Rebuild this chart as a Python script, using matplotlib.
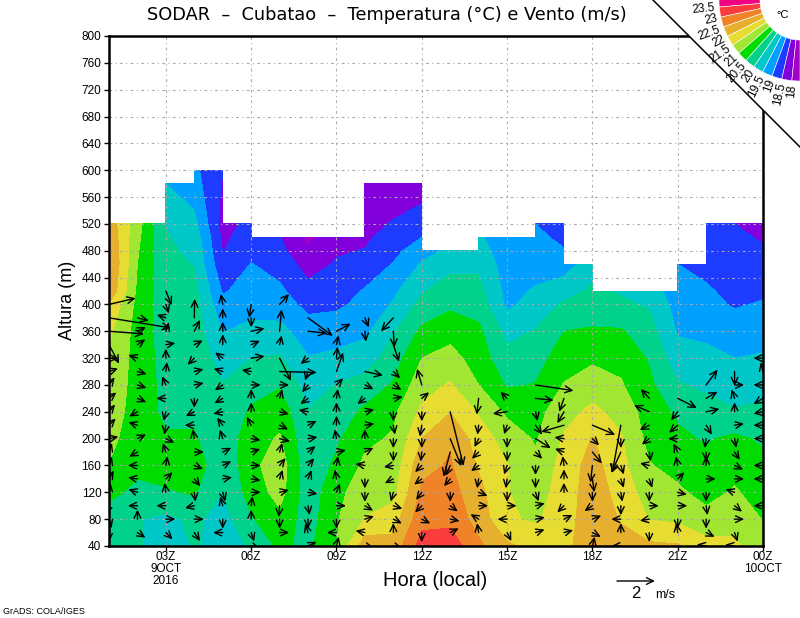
import numpy as np
import matplotlib
matplotlib.use('Agg')
import matplotlib.pyplot as plt
from matplotlib.patches import Wedge, Polygon

N = None
hours = list(range(1, 25))
alt_rows = [40, 80, 120, 160, 200, 240, 280, 320, 360, 400, 420, 460, 480, 500, 520, 580, 600]
wind_rows = list(range(40, 421, 20))

t01 = [20.1,20.3,20.6,20.98,21.15,21.3,21.35,21.45,21.6,21.95,22.4,22.55,22.5,22.4,22.3]
t02 = [20.08,20.03,20.4,20.6,20.7,20.75,20.8,20.8,20.8,20.85,20.9,21.0,21.05,21.12,21.2]
t03 = [19.6,19.88,20.45,20.7,20.55,20.4,20.35,20.3,20.25,20.2,20.18,20.12,20.08,20.04,19.98,19.5]
t04 = [20.07,20.1,20.55,20.8,20.55,20.4,20.35,20.3,20.25,20.2,20.15,19.98,19.9,19.8,19.65,19.2,19.1]
t05 = [19.7,19.8,20.0,20.1,20.15,20.2,20.02,19.8,19.48,19.15,18.95,18.6,18.48,18.4,18.3,18.45,18.55]
t06 = [20.08,20.45,20.7,20.85,20.8,20.55,20.35,20.0,19.65,19.3,19.2,19.02,18.85,18.75,18.65]
t07 = [20.6,20.85,21.2,21.3,21.05,20.8,20.45,20.05,19.65,19.25,19.1,18.8,18.65,18.52]
t08 = [20.38,20.25,20.2,20.15,20.1,20.02,19.8,19.52,19.25,18.85,18.65,18.3,18.05,17.9]
t09 = [20.98,20.95,20.85,20.6,20.42,20.2,20.02,19.6,19.3,18.9,18.75,18.55,18.45,18.3]
t10 = [22.3,21.52,21.3,21.1,20.9,20.6,20.2,19.75,19.4,19.15,19.05,18.65,18.52,18.42,18.3,18.1]
t11 = [22.2,21.75,21.35,21.2,21.05,20.9,20.55,20.25,19.95,19.55,19.4,19.03,18.85,18.7,18.55,18.1]
t12 = [23.2,22.85,22.6,22.35,22.0,21.6,21.3,21.0,20.6,20.15,19.95,19.55,19.3,19.0,18.7,18.3]
t13 = [23.3,22.85,22.7,22.55,22.45,21.98,21.55,21.2,20.8,20.4,20.25,19.85,19.6]
t14 = [22.6,22.3,22.15,21.95,21.75,21.45,21.0,20.75,20.6,20.3,20.15,19.9,19.75,19.6]
t15 = [22.1,21.55,21.52,21.52,21.3,20.9,20.45,20.15,19.85,19.4,19.35,19.25,19.15,19.05]
t16 = [21.8,21.45,21.3,21.1,20.95,20.8,20.52,20.3,20.03,19.7,19.55,19.3,19.2,19.1,19.0]
t17 = [21.75,21.7,21.7,21.7,21.55,21.35,21.03,20.75,20.5,20.07,19.8,19.25,19.03,18.9,18.75]
t18 = [22.55,22.4,22.3,22.2,22.03,21.6,21.3,20.9,20.55,20.25,20.08,19.8]
t19 = [22.25,21.95,21.8,21.65,21.55,21.35,21.05,20.85,20.55,20.08,19.95]
t20 = [22.1,21.48,21.25,21.03,20.85,20.75,20.6,20.45,20.2,19.95,19.75]
t21 = [22.05,21.4,21.08,20.85,20.6,20.42,20.05,19.7,19.45,19.3,19.2,19.0]
t22 = [21.7,21.15,20.85,20.65,20.45,20.2,19.9,19.62,19.4,19.15,19.07,18.85,18.75,18.7,18.65]
t23 = [21.6,21.3,21.05,20.85,20.6,20.05,19.75,19.5,19.25,18.95,18.85,18.7,18.65,18.6,18.5]
t24 = [21.15,20.98,20.8,20.65,20.42,20.1,19.85,19.55,19.3,19.05,18.9,18.65,18.55,18.45,18.3]
temp_columns = [t01,t02,t03,t04,t05,t06,t07,t08,t09,t10,t11,t12,t13,t14,t15,t16,t17,t18,t19,t20,t21,t22,t23,t24]

# (u, v) in m/s at 40, 60, ... 420 m
w01 = [N,(0,-.4),(.1,-.35),(-.1,-.3),(.05,.3),(.2,.35),(.1,.3),(.1,.3),(.25,.05),(.2,.2),(.25,.3),(.25,.2),(.3,.4),(.3,.1),(.4,0),(.53,-1.0),(1.84,-.14),(3.25,-.53),(1.4,.33),N]
w02 = [N,(.4,-.25),(0,.35),(-.4,0),(-.3,.1),(-.35,.05),(-.4,0),(-.35,-.2),(.2,.1),(-.3,.1),(-.35,-.2),(.35,-.15),(.3,-.1),(.35,-.1),(-.3,.1),(.3,.2),(.4,.2),(.6,-.15),N,N]
w03 = [N,(.35,-.35),(.3,0),(-.35,0),(-.05,.35),(.2,.2),(.05,.3),(-.1,.3),(.1,-.05),(-.05,-.3),(-.1,-.4),(-.3,0),(-.15,.35),(.05,.4),(0,.4),(.3,.05),(.1,.3),(-.3,.1),(.1,-.3),(.3,-.75)]
w04 = [N,(.3,-.45),(.4,0),(-.4,-.1),(.05,-.4),(.2,-.25),(.25,-.1),(.3,0),(-.05,.3),(-.3,0),(-.3,-.15),(0,-.35),(.25,.05),(.2,.05),(-.1,-.1),(.2,.1),(.3,.6),(.02,1.0),N,N]
w05 = [N,(-.35,0),(0,-.35),(-.1,.35),(.1,-.35),(.3,.05),(.3,.15),(.3,.15),(-.1,.3),(-.15,.2),(-.25,-.05),(-.25,-.15),(-.3,-.2),(-.3,.1),(-.4,.3),(0,.55),(0,.5),(0,.5),(-.1,.55),N]
w06 = [(.35,-.1),(.1,-.3),(0,.3),(.05,.35),(.3,0),(.3,-.05),(.3,0),(.3,.1),(.3,-.05),(-.15,.3),(0,.35),(0,.35),(.1,0),(-.3,.05),(.7,.1),(.45,.2),(.7,.15),(0,-.5),(-.1,-.7),N]
w07 = [N,(.1,0),(0,-.5),(-.05,-.6),(.2,.05),(.1,.3),(.2,.25),(.1,.35),(.55,-.15),(.4,-.2),(.4,-.1),(.1,.35),(.15,0),(1.95,-.05),(.6,-1.2),(.1,.45),(.1,1.15),N,(.5,.55),N]
w08 = [(.2,.1),(-.1,.3),(0,-.3),(.05,-.3),(.3,-.05),(.1,.25),(.25,.3),(.25,.2),(.3,.05),(.2,.1),(-.25,.05),(-.2,-.15),(-.2,-.25),(-.1,-.3),(-.25,-.2),N,(1.0,-.1),(1.3,-.95),N,N]
w09 = [(.05,.2),(-.3,0),(0,-.1),(.3,0),(.1,.25),(-.05,.3),(.05,.3),(.25,.05),(-.05,.3),(0,.35),(0,.35),(.05,.35),(.2,.2),(.35,1.0),(.05,.6),(.1,.45),(.75,.4),N,N,N]
w10 = [(.2,-.05),(-.25,.05),(.3,.1),(.25,-.15),(0,-.3),(0,-.35),(-.3,.05),(.2,.1),(0,.3),(.3,.05),(.2,.05),(-.2,-.15),(.2,-.1),(.95,-.2),N,N,(.05,-.55),(.2,-.5),N,N]
w11 = [(.35,-.1),(0,.35),(.2,-.1),(.3,-.1),(-.1,-.35),(-.3,-.15),(-.3,-.05),(0,-.3),(0,-.3),(.05,-.3),(0,-.2),(.3,.05),(.4,-.25),(.1,-.1),N,(.3,-.9),(.05,-.85),(-.65,-.7),N,N]
w12 = [N,(0,-.25),(.1,-.05),(-.1,-.1),(-.15,-.2),(-.4,-.3),(-.3,-.3),(-.05,-.4),(0,-.4),(-.1,-.6),(0,-.3),(.3,.25),(-.25,.85),N,N,N,N,N,N,N]
w13 = [N,(.2,.1),(.25,-.05),(.2,-.15),(0,-.35),(-.3,-.35),(-.25,-.55),(-.35,-1.3),(.58,-1.45),N,(.7,-2.85),N,N,N,N,N,N,N,N,N]
w14 = [N,(-.05,.3),(-.25,.15),(.25,0),(.25,-.1),(-.05,-.3),(-.2,-.15),(-.3,-.3),(-.15,-.3),(-.05,-.4),N,(-.1,-.85),N,N,N,N,N,N,N,N]
w15 = [N,(.1,-.2),(-.2,0),(.2,0),(0,-.25),(-.05,-.35),(-.1,-.3),(0,-.4),(0,-.4),(-.1,-.3),(-.75,-.1),(-.35,.35),N,N,N,N,N,N,N,N]
w16 = [N,(.15,.05),(.25,.05),(.2,.05),(.1,-.3),(0,-.3),(0,-.3),(.3,-.3),(.8,-.5),(.35,-.5),(.1,-.45),(.95,-.1),(2.0,-.3),N,N,N,N,N,N,N]
w17 = [N,(.2,.05),(.2,.1),(-.1,-.1),(0,.4),(0,.35),(-.05,.35),(-.4,.15),(-.35,.05),(-1.2,-.35),(-.35,-.6),(-.25,-.7),N,N,N,N,N,N,N,N]
w18 = [(.05,.2),(.2,-.1),(.25,.1),(-.15,-.1),(0,-.4),(.1,-.7),(-.1,-.9),(.5,-.6),(.35,-.35),(1.2,-.5),N,N,N,N,N,N,N,N,N,N]
w19 = [(-.1,0),(0,.3),(-.3,0),(0,-.25),(.05,-.3),(.1,-.3),(.1,-.3),(-.5,-1.1),(0,-.4),(-.45,-2.5),N,N,N,N,N,N,N,N,N,N]
w20 = [N,(0,-.3),(-.3,-.05),(.3,0),(0,-.3),(.1,-.3),(-.2,.05),(.05,-.35),(-.25,-.2),(-.5,-.25),(-.8,.35),(-.45,.5),N,N,N,N,N,N,N,N]
w21 = [N,(-.05,.3),(0,-.3),(.2,0),(.2,-.05),(.2,.2),(-.05,.25),(-.15,.3),(-.3,0),(-.45,-.4),(-.35,-.45),(1.0,-.5),N,N,N,N,N,N,N,N]
w22 = [(-.3,.05),(.2,-.1),(0,-.2),(.05,-.35),(0,-.3),(.15,0),(0,.2),(0,-.3),(-.05,-.35),(.3,-.5),(.7,.15),(.6,.35),(.6,.8),N,N,N,N,N,N,N]
w23 = [(-.35,.05),(.1,-.3),(.2,0),(.25,-.2),(-.15,.05),(.2,0),(.2,-.1),(.2,-.3),(.05,-.3),(.3,.05),(0,.3),(-.1,.3),(.1,0),(0,-.75),N,N,N,N,N,N]
w24 = [N,N,N,(-.1,0),N,(-.1,0),(-.1,0),N,(-.1,0),(-.1,0),(-.5,-.1),(-.5,-.3),(-.2,0),(-.1,.4),(-.2,0),N,N,N,N,N]
wind_columns = [w01,w02,w03,w04,w05,w06,w07,w08,w09,w10,w11,w12,w13,w14,w15,w16,w17,w18,w19,w20,w21,w22,w23,w24]

levels = [18,18.5,19,19.5,20,20.5,21,21.5,22,22.5,23,23.5]
level_labels = ['18','18.5','19','19.5','20','20.5','21','21.5','22','22.5','23','23.5']
rgb = [(160,0,200),(130,0,220),(30,60,255),(0,160,255),(0,200,200),(0,210,140),(0,220,0),
       (160,230,50),(230,220,50),(230,175,45),(240,130,40),(250,60,60),(240,0,130)]
colors = [tuple(c/255 for c in col) for col in rgb]

xtick_hours = [3,6,9,12,15,18,21,24]
xtick_labels = ['03Z\n9OCT\n2016','06Z','09Z','12Z','15Z','18Z','21Z','00Z\n10OCT']
ytick_vals = list(range(40, 801, 40))

NARROW = ['Liberation Sans Narrow','Liberation Sans','DejaVu Sans']
W, H = 800, 618
fig = plt.figure(figsize=(8, 6.18), dpi=100)
L, R, T, B = 109, 763, 36, 546
ax = fig.add_axes([L/W, 1-B/H, (R-L)/W, (B-T)/H])
ax.set_xlim(1, 24); ax.set_ylim(40, 800)

Z = np.full((len(alt_rows), len(hours)), np.nan)
for j, col in enumerate(temp_columns):
    Z[:len(col), j] = col
ax.contourf(hours, alt_rows, np.ma.masked_invalid(Z), levels=levels, colors=colors,
            extend='both', antialiased=False, corner_mask=False, zorder=1)

ax.set_xticks(xtick_hours); ax.set_xticklabels(xtick_labels, family=NARROW, fontsize=8.5, linespacing=1.0)
ax.set_yticks(ytick_vals); ax.set_yticklabels([str(v) for v in ytick_vals], family=NARROW, fontsize=8.5)
ax.tick_params(length=3.5, width=1, pad=2)
ax.tick_params(axis='x', pad=0)
ax.grid(True, color='#aaaaaa', lw=0.8, ls=(0, (2.5, 3, 1, 3)), zorder=2)
ax.set_axisbelow(False)
for s in ax.spines.values():
    s.set_linewidth(1.8); s.set_zorder(6)

px_per_ms = (655-617)/2
dx_h = (R-L)/23
dy_m = (B-T)/760
head = '->,head_length=0.5,head_width=0.24'
for h, col in zip(hours, wind_columns):
    for a, w in zip(wind_rows, col):
        if w is None:
            continue
        u, v = w
        mag = np.hypot(u, v)
        k = max(1.0, 0.5/mag)
        ann = ax.annotate('', xy=(h+k*u*px_per_ms/dx_h, a+k*v*px_per_ms/dy_m), xytext=(h, a), zorder=5,
                          annotation_clip=False,
                          arrowprops=dict(arrowstyle=head, lw=1.0, color='k',
                                          shrinkA=0, shrinkB=0, mutation_scale=10))
        ann.arrow_patch.set_clip_path(ax.patch)

ov = fig.add_axes([0, 0, 1, 1], zorder=10)
ov.set_xlim(0, W); ov.set_ylim(H, 0); ov.axis('off'); ov.patch.set_alpha(0)
ov.add_patch(Polygon([(653,0),(800,147),(800,0)], closed=True, fc='w', ec='none'))
ov.plot([653,800],[0,147], color='k', lw=1.1)
bounds = [-3] + [5+7.2*k for k in range(12)] + [90]
for k, c in enumerate(colors[::-1]):
    ov.add_patch(Wedge((800,0), 81, 180-bounds[k+1], 180-bounds[k], width=41, fc=c, ec='w', lw=0.4))
for k, lab in enumerate(level_labels[::-1]):
    ang = 5.5+7.2*k
    th = np.radians(ang)
    ov.text(800-85*np.cos(th), 85*np.sin(th), lab, rotation=ang, rotation_mode='anchor',
            ha='right', va='center', family=NARROW, fontsize=8.5)
ov.text(783, 15, '°C', ha='center', va='center', family=NARROW, fontsize=8)

ov.text(386.5, 15, 'SODAR  –  Cubatao  –  Temperatura (°C) e Vento (m/s)', ha='center', va='center',
        family='DejaVu Sans', fontsize=12.8)
ov.text(435, 581, 'Hora (local)', ha='center', va='center', family='Liberation Sans', fontsize=14.5)
ov.text(67, 300, 'Altura (m)', rotation=90, ha='center', va='center', family='Liberation Sans', fontsize=13)
ov.annotate('', xy=(655,581), xytext=(617,581), arrowprops=dict(arrowstyle=head,
            lw=1.0, color='k', shrinkA=0, shrinkB=0, mutation_scale=10))
ov.text(636, 593, '2', ha='center', va='center', family=NARROW, fontsize=12)
ov.text(665, 595, 'm/s', ha='center', va='center', family=NARROW, fontsize=9)
ov.text(3, 611, 'GrADS: COLA/IGES', ha='left', va='center', family=NARROW, fontsize=6.5)

fig.savefig('out.png', dpi=100, facecolor='w')
